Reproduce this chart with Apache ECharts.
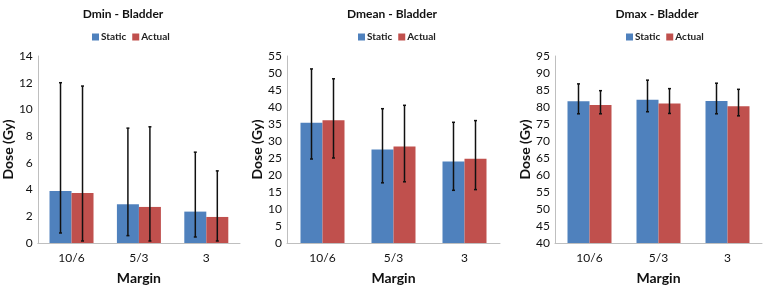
<!DOCTYPE html>
<html>
<head>
<meta charset="utf-8">
<script src="https://cdn.jsdelivr.net/npm/echarts@6/dist/echarts.min.js"></script>
<style>
  html, body { margin: 0; padding: 0; background: #fff; }
  #chart { width: 773px; height: 290px; }
</style>
</head>
<body>
<div id="chart"></div>
<script>
// data
const categories = ["10/6", "5/3", "3"];
const panelTitles = ["Dmin - Bladder", "Dmean - Bladder", "Dmax - Bladder"];

const dminStatic = [3.9, 2.9, 2.35];
const dminActual = [3.75, 2.7, 1.95];
const dminStaticErr = [[0.75, 12.0], [0.55, 8.6], [0.45, 6.8]];
const dminActualErr = [[0.15, 11.75], [0.15, 8.7], [0.15, 5.4]];

const dmeanStatic = [35.4, 27.5, 24.0];
const dmeanActual = [36.1, 28.4, 24.8];
const dmeanStaticErr = [[24.7, 51.2], [17.7, 39.5], [15.5, 35.5]];
const dmeanActualErr = [[25.0, 48.3], [18.0, 40.5], [15.7, 36.0]];

const dmaxStatic = [81.7, 82.1, 81.8];
const dmaxActual = [80.6, 81.0, 80.2];
const dmaxStaticErr = [[78.0, 86.8], [78.6, 87.9], [78.0, 87.0]];
const dmaxActualErr = [[78.0, 84.8], [78.1, 85.4], [77.4, 85.2]];

const yMin = [0, 0, 40];
const yMax = [14, 55, 95];
const yStep = [2, 5, 5];

const font = "Lato";
const blue = "#4F81BD";
const red = "#C0504D";
const barW = 22;

const grids = [
  { left: 33, top: 56, width: 207, height: 191 },
  { left: 287, top: 56, width: 213, height: 191 },
  { left: 555, top: 56, width: 207, height: 191 }
];

const panels = [
  [dminStatic, dminActual, dminStaticErr, dminActualErr],
  [dmeanStatic, dmeanActual, dmeanStaticErr, dmeanActualErr],
  [dmaxStatic, dmaxActual, dmaxStaticErr, dmaxActualErr]
];

function errSeries(i, errs, offset) {
  return {
    type: "custom",
    xAxisIndex: i,
    yAxisIndex: i,
    silent: true,
    z: 10,
    data: errs.map((e, k) => [k, e[0], e[1]]),
    renderItem: function(params, api) {
      const lo = api.coord([api.value(0), api.value(1)]);
      const hi = api.coord([api.value(0), api.value(2)]);
      const x = lo[0] + offset;
      const st = { stroke: "#111", lineWidth: 1.5 };
      return {
        type: "group",
        children: [
          { type: "line", shape: { x1: x, y1: lo[1], x2: x, y2: hi[1] }, style: st },
          { type: "line", shape: { x1: x - 1.5, y1: lo[1], x2: x + 1.5, y2: lo[1] }, style: st },
          { type: "line", shape: { x1: x - 1.5, y1: hi[1], x2: x + 1.5, y2: hi[1] }, style: st }
        ]
      };
    }
  };
}

const titleCenters = [118, 387, 652];
const legendLefts = [87, 353, 621];

const option = {
  animation: false,
  textStyle: { fontFamily: font },
  title: panelTitles.map((t, i) => ({
    text: t,
    left: titleCenters[i],
    top: 3,
    textAlign: "center",
    textStyle: { fontFamily: font, fontSize: 12, fontWeight: "bold", color: "#111" }
  })),
  legend: [0, 1, 2].map(i => ({
    data: ["Static" + i, "Actual" + i],
    left: legendLefts[i],
    top: 27,
    itemWidth: 7,
    itemHeight: 7,
    itemGap: 6,
    icon: "rect",
    formatter: n => n.replace(/\d$/, ""),
    textStyle: { fontFamily: font, fontSize: 10, fontWeight: "bold", color: "#222", padding: [0, 0, 0, -3] }
  })),
  grid: grids,
  xAxis: [0, 1, 2].map(i => ({
    type: "category",
    gridIndex: i,
    data: categories,
    name: "Margin",
    nameLocation: "middle",
    nameGap: 28,
    nameTextStyle: { fontFamily: font, fontSize: 14, fontWeight: "bold", color: "#111" },
    axisLine: { lineStyle: { color: "#bfbfbf" } },
    axisTick: { show: false },
    axisLabel: { fontFamily: font, fontSize: 12, color: "#111", margin: 9 }
  })),
  yAxis: [0, 1, 2].map(i => ({
    type: "value",
    gridIndex: i,
    min: yMin[i],
    max: yMax[i],
    interval: yStep[i],
    name: "Dose (Gy)",
    nameLocation: "middle",
    nameGap: 20,
    nameTextStyle: { fontFamily: font, fontSize: 14, fontWeight: "bold", color: "#111" },
    splitLine: { show: false },
    axisLine: { show: true, lineStyle: { color: "#bfbfbf" } },
    axisTick: { show: false },
    axisLabel: { fontFamily: font, fontSize: 12, color: "#111", margin: 5 }
  })),
  series: []
};

panels.forEach((p, i) => {
  option.series.push({
    name: "Static" + i, type: "bar", xAxisIndex: i, yAxisIndex: i,
    data: p[0], barWidth: barW, barGap: "0%",
    itemStyle: { color: blue }
  });
  option.series.push({
    name: "Actual" + i, type: "bar", xAxisIndex: i, yAxisIndex: i,
    data: p[1], barWidth: barW, barGap: "0%",
    itemStyle: { color: red }
  });
  option.series.push(errSeries(i, p[2], -barW / 2));
  option.series.push(errSeries(i, p[3], barW / 2));
});

const chart = echarts.init(document.getElementById("chart"));
chart.setOption(option);
</script>
</body>
</html>
